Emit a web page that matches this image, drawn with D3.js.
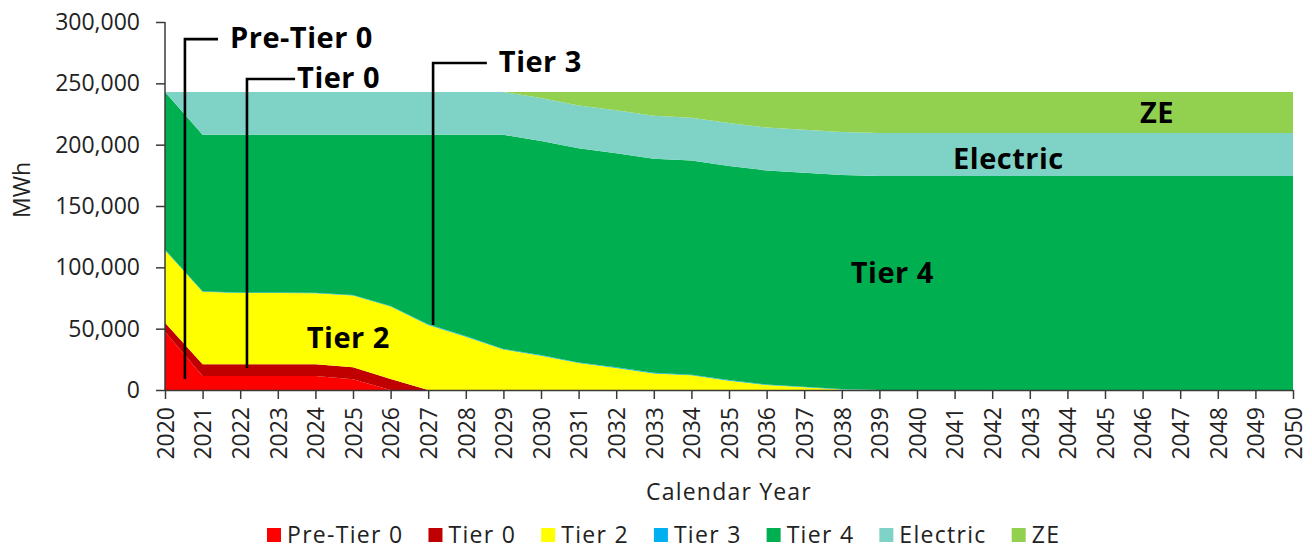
<!DOCTYPE html>
<html>
<head>
<meta charset="utf-8">
<script src="https://cdn.jsdelivr.net/npm/d3@7"></script>
<style>
  body { margin: 0; background: #fff; }
  svg { display: block; font-family: 'Open Sans', sans-serif; }
  .axis path, .axis line { stroke: #3a3a3a; stroke-width: 1.5; }
  .axis text { fill: #222; font-size: 23px; font-family: 'Open Sans', sans-serif; }
  .note { font-weight: 700; font-size: 29px; fill: #000; letter-spacing: 0.5px; }
  .leader { fill: none; stroke: #000; stroke-width: 2.6; }
  .plain { font-size: 23px; fill: #222; letter-spacing: 1.2px; }
</style>
</head>
<body>
<div id="chart"></div>
<script>
/*
** Data (MWh by calendar year)
*/
var years = d3.range(2020, 2051);

var preTier0 = [47500, 11400, 11400, 11400, 11400, 8700, 0, 0, 0, 0,
                0, 0, 0, 0, 0, 0, 0, 0, 0, 0,
                0, 0, 0, 0, 0, 0, 0, 0, 0, 0, 0];
var tier0    = [7400, 9500, 9500, 9500, 9500, 9800, 9000, 0, 0, 0,
                0, 0, 0, 0, 0, 0, 0, 0, 0, 0,
                0, 0, 0, 0, 0, 0, 0, 0, 0, 0, 0];
var tier2    = [59100, 59100, 58100, 58100, 57900, 58500, 59000, 53000, 43500, 33000,
                28000, 22000, 18000, 13500, 12000, 7600, 4000, 2200, 500, 0,
                0, 0, 0, 0, 0, 0, 0, 0, 0, 0, 0];
var tier3    = [500, 500, 500, 500, 500, 500, 500, 500, 500, 500,
                500, 500, 500, 500, 500, 500, 500, 500, 300, 0,
                0, 0, 0, 0, 0, 0, 0, 0, 0, 0, 0];
var tier4    = [128500, 127500, 128500, 128500, 128700, 130500, 139500, 154500, 164000, 174500,
                174500, 174500, 174500, 174500, 174500, 174500, 174500, 174500, 174500, 174500,
                174500, 174500, 174500, 174500, 174500, 174500, 174500, 174500, 174500, 174500, 174500];
var electric = [0, 35000, 35000, 35000, 35000, 35000, 35000, 35000, 35000, 35000,
                35000, 35000, 35000, 35000, 35000, 35000, 35000, 35000, 35000, 35000,
                35000, 35000, 35000, 35000, 35000, 35000, 35000, 35000, 35000, 35000, 35000];
var ze       = [0, 0, 0, 0, 0, 0, 0, 0, 0, 0,
                5000, 11000, 15000, 19500, 21000, 25400, 29000, 30800, 32700, 33500,
                33500, 33500, 33500, 33500, 33500, 33500, 33500, 33500, 33500, 33500, 33500];

var seriesNames  = ["Pre-Tier 0", "Tier 0", "Tier 2", "Tier 3", "Tier 4", "Electric", "ZE"];
var seriesValues = [preTier0, tier0, tier2, tier3, tier4, electric, ze];
var seriesColors = ["#ff0000", "#c00000", "#ffff00", "#00b0f0", "#00b050", "#7ed3c6", "#92d050"];

var yTicks = [0, 50000, 100000, 150000, 200000, 250000, 300000];

// labels written on the areas: [text, year, MWh at baseline]
var areaLabels = [
    ["Tier 2", 2023.77, 34500],
    ["Tier 4", 2038.24, 87000],
    ["Electric", 2040.96, 180000],
    ["ZE", 2045.93, 217400]
];
// call-outs: [text, year of leader, MWh at bottom, MWh at elbow, year of elbow end]
var callouts = [
    ["Pre-Tier 0", 2020.53, 9000, 286000, 2021.41],
    ["Tier 0", 2022.18, 18000, 253500, 2023.46],
    ["Tier 3", 2027.13, 53000, 266600, 2028.56]
];

/*
** Layout
*/
var W = 1312
  , H = 551
  , margin = {top: 22, right: 19, bottom: 161, left: 165}
  , width = W - margin.left - margin.right
  , height = H - margin.top - margin.bottom
;

var table = years.map(function(yr, i) {
    var row = {year: yr};
    seriesNames.forEach(function(k, j) { row[k] = seriesValues[j][i]; });
    return row;
});

var x = d3.scaleLinear().domain([2020, 2050]).range([0, width])
  , y = d3.scaleLinear().domain([0, 300000]).range([height, 0])
  , color = d3.scaleOrdinal().domain(seriesNames).range(seriesColors)
;

var svg = d3.select("#chart").append("svg")
    .attr("width", W)
    .attr("height", H)
;
var g = svg.append("g")
    .attr("transform", "translate(" + margin.left + "," + margin.top + ")")
;

/*
** Stacked areas
*/
var stacked = d3.stack().keys(seriesNames)(table);
var area = d3.area()
    .x(function(d) { return x(d.data.year); })
    .y0(function(d) { return y(d[0]); })
    .y1(function(d) { return y(d[1]); })
;
g.selectAll(".layer")
    .data(stacked)
  .enter().append("path")
    .attr("class", "layer")
    .attr("d", area)
    .attr("fill", function(d) { return color(d.key); })
;

/*
** Labels and call-outs
*/
g.selectAll(".area-label")
    .data(areaLabels)
  .enter().append("text")
    .attr("class", "note area-label")
    .attr("x", function(d) { return x(d[1]); })
    .attr("y", function(d) { return y(d[2]); })
    .text(function(d) { return d[0]; })
;
var co = g.selectAll(".callout")
    .data(callouts)
  .enter().append("g")
    .attr("class", "callout")
;
co.append("path")
    .attr("class", "leader")
    .attr("d", function(d) {
        return "M" + x(d[1]) + "," + y(d[2]) +
               "V" + y(d[3]) + "H" + x(d[4]);
    })
;
co.append("text")
    .attr("class", "note")
    .attr("x", function(d) { return x(d[4]) + (d[0] === "Tier 0" ? 2 : 12); })
    .attr("y", function(d) { return y(d[3]) + 9; })
    .text(function(d) { return d[0]; })
;

/*
** Axes
*/
var yAxis = d3.axisLeft(y)
    .tickValues(yTicks)
    .tickFormat(d3.format(","))
    .tickSize(9)
    .tickPadding(16)
;
g.append("g")
    .attr("class", "axis axis--y")
    .call(yAxis)
;
var xAxis = d3.axisBottom(x)
    .tickValues(years)
    .tickFormat(d3.format("d"))
    .tickSize(9)
    .tickSizeOuter(0)
;
g.append("g")
    .attr("class", "axis axis--x")
    .attr("transform", "translate(0," + height + ")")
    .call(xAxis)
  .selectAll(".tick text")
    .attr("transform", "rotate(-90)")
    .attr("x", -17)
    .attr("y", 0)
    .attr("dy", "0.36em")
    .attr("text-anchor", "end")
;
g.select(".axis--y .domain").attr("d", "M0," + y(300000) + "V" + height);

g.append("text")
    .attr("class", "plain")
    .attr("x", width / 2)
    .attr("y", height + 110)
    .attr("text-anchor", "middle")
    .text("Calendar Year")
;
g.append("text")
    .attr("class", "plain")
    .attr("transform", "translate(" + (-143) + "," + (height / 2 - 16) + ") rotate(-90)")
    .attr("dy", "0.35em")
    .attr("text-anchor", "middle")
    .style("letter-spacing", "0px")
    .text("MWh")
;

/*
** Legend
*/
var legend = svg.append("g")
    .attr("transform", "translate(267," + 528 + ")")
;
var lx = 0;
seriesNames.forEach(function(k) {
    var item = legend.append("g").attr("transform", "translate(" + lx + ",0)");
    item.append("rect")
        .attr("width", 14)
        .attr("height", 14)
        .attr("fill", color(k))
    ;
    var t = item.append("text")
        .attr("class", "plain")
        .attr("x", 20)
        .attr("y", 15)
        .style("letter-spacing", "1.3px")
        .text(k)
    ;
    lx += 20 + t.node().getComputedTextLength() + 25;
});
</script>
</body>
</html>
